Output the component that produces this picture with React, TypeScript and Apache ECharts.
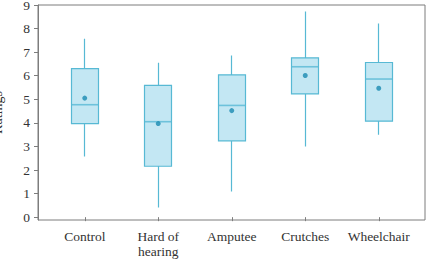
import React, { useEffect, useRef } from 'react';
import * as echarts from 'echarts';

// Ratings by group: five-number summaries plus the mean
const categories = ['Control', 'Hard of\nhearing', 'Amputee', 'Crutches', 'Wheelchair'];
const whiskerLow = [2.57, 0.41, 1.09, 3.0, 3.5];
const q1 = [3.97, 2.16, 3.24, 5.23, 4.07];
const median = [4.77, 4.05, 4.74, 6.38, 5.86];
const q3 = [6.3, 5.59, 6.04, 6.76, 6.56];
const whiskerHigh = [7.57, 6.55, 6.86, 8.72, 8.21];
const mean = [5.05, 3.97, 4.52, 6.01, 5.47];
const yTicks = [0, 1, 2, 3, 4, 5, 6, 7, 8, 9];

const FONT = 'Liberation Serif';
const AXIS_GRAY = '#7d7d7d';
const TEXT = '#333333';
const BOX_FILL = '#c3e7f3';
const BOX_STROKE = '#57b9d4';
const MEAN_DOT = '#1a8bb2';
const BOX_W = 27.5;

export default function App() {
  const ref = useRef<HTMLDivElement>(null);

  useEffect(() => {
    const chart = echarts.init(ref.current!, null, { renderer: 'svg' });
    // candlestick body = interquartile box, wicks = whiskers (no end caps)
    const boxes = categories.map((_, i) => [q1[i], q3[i], whiskerLow[i], whiskerHigh[i]]);

    chart.setOption({
      animation: false,
      textStyle: { fontFamily: FONT },
      grid: [
        {
          left: 38, right: 1, top: 5, bottom: 47,
          outerBoundsMode: 'none', containLabel: false,
          show: true, borderColor: AXIS_GRAY, borderWidth: 1,
        },
        { left: 48, right: 10.5, top: 5, bottom: 47, outerBoundsMode: 'none', containLabel: false },
      ],
      xAxis: [
        { gridIndex: 0, type: 'value', show: false, min: 0, max: 1 },
        {
          gridIndex: 1,
          type: 'category',
          data: categories,
          axisLine: { show: false },
          axisTick: { show: true, alignWithLabel: true, length: 4, lineStyle: { color: AXIS_GRAY } },
          axisLabel: { interval: 0, margin: 9, fontSize: 13.5, lineHeight: 15, color: TEXT, fontFamily: FONT },
          splitLine: { show: false },
        },
      ],
      yAxis: [
        {
          gridIndex: 0,
          type: 'value',
          min: -0.12,
          max: 9,
          name: 'Ratings',
          nameLocation: 'middle',
          nameGap: 34,
          nameTextStyle: { fontSize: 14, color: TEXT, fontFamily: FONT },
          axisLine: { show: true, lineStyle: { color: AXIS_GRAY } },
          axisTick: { show: true, length: 4, customValues: yTicks, lineStyle: { color: AXIS_GRAY } },
          axisLabel: { customValues: yTicks, margin: 8, fontSize: 13.5, color: TEXT, fontFamily: FONT },
          splitLine: { show: false },
        },
        { gridIndex: 1, type: 'value', min: -0.12, max: 9, show: false },
      ],
      series: [
        {
          type: 'candlestick',
          xAxisIndex: 1,
          yAxisIndex: 1,
          data: boxes,
          barWidth: BOX_W,
          itemStyle: {
            color: BOX_FILL,
            color0: BOX_FILL,
            borderColor: BOX_STROKE,
            borderColor0: BOX_STROKE,
            borderWidth: 1.2,
          },
        },
        {
          type: 'scatter',
          xAxisIndex: 1,
          yAxisIndex: 1,
          data: median.map((v, i) => [i, v]),
          symbol: 'rect',
          symbolSize: [BOX_W, 1.6],
          itemStyle: { color: BOX_STROKE },
        },
        {
          type: 'scatter',
          xAxisIndex: 1,
          yAxisIndex: 1,
          data: mean.map((v, i) => [i, v]),
          symbol: 'circle',
          symbolSize: 5,
          itemStyle: { color: MEAN_DOT },
        },
      ],
    });

    return () => chart.dispose();
  }, []);

  return <div ref={ref} style={{ position: 'absolute', left: 0, top: 0, width: 426, height: 267 }} />;
}
